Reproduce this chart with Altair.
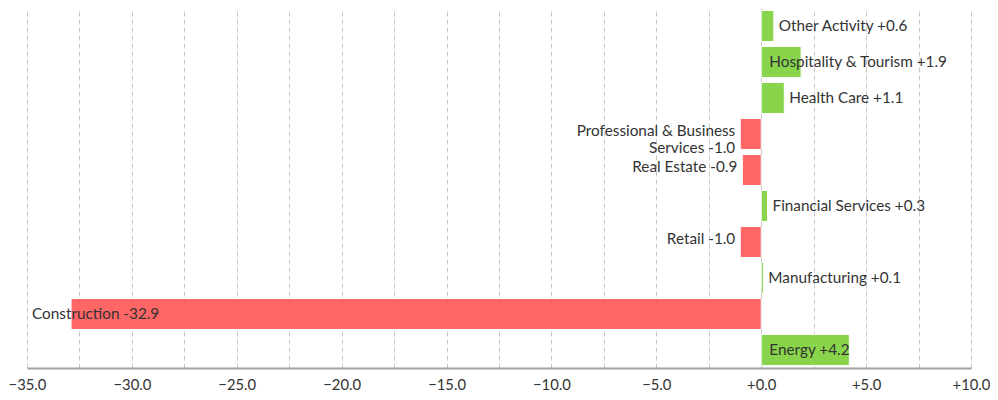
import altair as alt
import pandas as pd

categories = ["Other Activity", "Hospitality & Tourism", "Health Care",
              "Professional & Business Services", "Real Estate",
              "Financial Services", "Retail", "Manufacturing",
              "Construction", "Energy"]
label_names = ["Other Activity", "Hospitality & Tourism", "Health Care",
               "Professional & Business\nServices", "Real Estate",
               "Financial Services", "Retail", "Manufacturing",
               "Construction", "Energy"]
values = [0.6, 1.9, 1.1, -1.0, -0.9, 0.3, -1.0, 0.1, -32.9, 4.2]

x_min, x_max = -35, 10
pos_color = "#7ED23C"
neg_color = "#FF5A5A"


def fmt(v):
    return ("+" if v >= 0 else "") + f"{v:.1f}"


rows = []
for c, n, v in zip(categories, label_names, values):
    if v >= 0:
        side = "left"
        anchor = v if v < 1.5 else 0.15
    elif v < -30:
        side = "left"
        anchor = x_min
    else:
        side = "right"
        anchor = v
    rows.append({"cat": c, "value": v, "label": f"{n} {fmt(v)}",
                 "side": side, "anchor": anchor,
                 "sign": "pos" if v >= 0 else "neg"})
df = pd.DataFrame(rows)

grid_values = [x_min + 2.5 * i for i in range(int((x_max - x_min) / 2.5) + 1)]

label_expr = ("datum.value % 5 === 0 ? ((datum.value >= 0 ? '+' : '') + "
              "format(datum.value, '.1f')) : ''")

x_scale = alt.Scale(domain=[x_min, x_max], nice=False, zero=False)
y_enc = alt.Y("cat:N", sort=categories, axis=None,
              scale=alt.Scale(paddingInner=0.14, paddingOuter=0.07))

base = alt.Chart(df)

bars = base.mark_bar(opacity=0.92, stroke="white", strokeWidth=1).encode(
    x=alt.X("value:Q", scale=x_scale,
            axis=alt.Axis(values=grid_values, labelExpr=label_expr, title=None,
                          ticks=False, grid=True, gridColor="#c8c8c8",
                          gridDash={"condition": {"test": "datum.value === 0", "value": []},
                                    "value": [5, 3]},
                          gridWidth=1, domainColor="#a0a0a0", domainWidth=2,
                          labelFont="Lato", labelFontSize=14.8, labelColor="#333333",
                          labelPadding=9, labelFlush=False, labelOverlap=False)),
    x2=alt.datum(0),
    y=y_enc,
    color=alt.Color("sign:N", scale=alt.Scale(domain=["pos", "neg"],
                                               range=[pos_color, neg_color]),
                    legend=None),
)

text_left = base.transform_filter(alt.datum.side == "left").mark_text(
    align="left", baseline="middle", dx=5, font="Lato", fontSize=15.3,
    color="#333333", lineBreak="\n", lineHeight=17).encode(
    x=alt.X("anchor:Q", scale=x_scale),
    y=y_enc,
    text="label:N",
)

text_right = base.transform_filter(alt.datum.side == "right").mark_text(
    align="right", baseline="middle", dx=-5, dy=-3, font="Lato", fontSize=15.3,
    color="#333333", lineBreak="\n", lineHeight=17).encode(
    x=alt.X("anchor:Q", scale=x_scale),
    y=y_enc,
    text="label:N",
)

chart = alt.layer(bars, text_left, text_right).properties(
    width=944, height=360,
    padding={"left": 19, "top": 0, "right": 19, "bottom": 30},
    autosize=alt.AutoSizeParams(type="none"),
).configure_view(stroke=None)

chart.save("out.html", embed_options={"renderer": "svg", "actions": False})
